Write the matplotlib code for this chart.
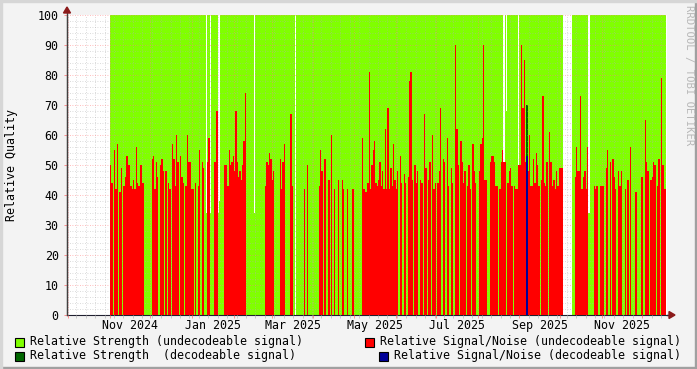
import datetime as dt
import numpy as np
import matplotlib.pyplot as plt
import matplotlib.dates as mdates
from matplotlib.patches import Rectangle, Polygon

# daily samples start on this day
first_day = dt.date(2024, 11, 1)
x_start = dt.datetime(2024, 9, 30, 2)
x_end = dt.datetime(2025, 12, 19, 12)

nan = np.nan

# Relative Signal/Noise (undecodeable), one value per day, 0 = nothing
snr_2024_11 = [50, 44, 0, 55, 42, 57, 0, 41, 49, 0, 43, 46, 53, 50, 50, 43, 42, 45, 42, 56,
               44, 43, 50, 50, 44, 0, 0, 0, 0, 0]
snr_2024_12 = [0, 52, 53, 42, 51, 46, 0, 50, 52, 48, 0, 48, 0, 44, 42, 0, 57, 52, 43, 60,
               51, 0, 53, 46, 44, 0, 43, 60, 51, 51, 42]
snr_2025_01 = [42, 0, 44, 0, 43, 55, 0, 51, 49, 0, 0, 51, 59, 0, 0, 0, 51, 51, 68, 0,
               0, 0, 0, 0, 50, 50, 43, 55, 50, 51, 53]
snr_2025_02 = [48, 68, 51, 46, 48, 45, 50, 58, 74, 0, 0, 0, 0, 0, 0, 0, 0, 0, 0, 0,
               0, 0, 0, 43, 51, 50, 54, 52]
snr_2025_03 = [45, 48, 0, 0, 0, 0, 52, 42, 51, 57, 0, 0, 0, 0, 67, 43, 0, 0, 0, 0,
               0, 0, 0, 0, 42, 0, 50, 0, 0, 0, 0]
snr_2025_04 = [0, 0, 0, 0, 43, 55, 48, 0, 52, 0, 0, 45, 0, 60, 0, 42, 0, 0, 45, 0,
               0, 45, 42, 0, 0, 42, 0, 0, 0, 42]
snr_2025_05 = [0, 0, 0, 0, 0, 0, 59, 42, 41, 41, 44, 81, 42, 50, 55, 58, 44, 43, 45, 51,
               43, 48, 42, 62, 42, 69, 42, 49, 43, 57, 45]
snr_2025_06 = [42, 48, 0, 53, 44, 0, 47, 44, 0, 46, 78, 81, 45, 0, 50, 44, 48, 0, 45, 44,
               0, 67, 49, 0, 45, 51, 0, 60, 42, 44]
snr_2025_07 = [0, 44, 48, 69, 0, 52, 51, 0, 59, 43, 0, 49, 44, 0, 90, 62, 50, 0, 58, 51,
               44, 48, 0, 43, 50, 42, 0, 57, 48, 44, 0]
snr_2025_08 = [0, 48, 57, 59, 90, 45, 45, 0, 0, 51, 53, 53, 51, 43, 43, 0, 42, 51, 55, 51,
               51, 0, 44, 48, 49, 43, 0, 43, 42, 42, 50]
snr_2025_09 = [50, 90, 69, 85, 51, 0, 48, 60, 43, 43, 52, 44, 54, 50, 43, 0, 45, 73, 44, 43,
               51, 0, 61, 51, 43, 45, 42, 48, 43, 49]
snr_2025_10 = [49, 49, nan, nan, nan, nan, nan, nan, nan, 0, 0, 46, 56, 48, 48, 73, 42, 46, 48, 42,
               56, 0, 0, 0, 0, 43, 42, 43, 0, 0, 43]
snr_2025_11 = [43, 43, 0, 49, 55, 0, 51, 0, 52, 46, 42, 0, 48, 43, 48, 0, 0, 42, 0, 45,
               0, 56, 0, 0, 0, 41, 0, 0, 0, 46]
snr_2025_12 = [46, 0, 65, 51, 48, 0, 45, 46, 51, 50, 0, 43, 52, 0, 79, 50, 42, 42]

# Relative Strength (undecodeable), one value per day, nan = no data
str_2024_11 = [100] * 30
str_2024_12 = [100] * 31
str_2025_01 = [100, 100, 100, 100, 100, 100, 100, 100, 100, 100, 34, 100, 100, 34, 100, 100, 100, 100, 100, 34,
               38, 100, 100, 100, 100, 100, 100, 100, 100, 100, 100]
str_2025_02 = [100, 100, 100, 100, 100, 100, 100, 100, 100, 100, 100, 100, 100, 100, 100, 34, 100, 100, 100, 100,
               100, 100, 100, 100, 100, 100, 100, 100]
str_2025_03 = [100, 100, 100, 100, 100, 100, 100, 100, 100, 100, 100, 100, 100, 100, 100, 100, 100, nan, 100, 100,
               100, 100, 100, 100, 100, 100, 100, 100, 100, 100, 100]
str_2025_04 = [100] * 30
str_2025_05 = [100] * 31
str_2025_06 = [100] * 30
str_2025_07 = [100] * 31
str_2025_08 = [100, 100, 100, 100, 100, 100, 100, 100, 100, 100, 100, 100, 100, 100, 100, 100, 100, 100, 100, 47,
               100, 68, 100, 100, 100, 100, 100, 100, 100, 100, 48]
str_2025_09 = [100] * 30
str_2025_10 = [100, 100, nan, nan, nan, nan, nan, nan, nan, 100, 100, 100, 100, 100, 100, 100, 100, 100, 100, 100,
               100, 34, 100, 100, 100, 100, 100, 100, 100, 100, 100]
str_2025_11 = [100] * 30
str_2025_12 = [100] * 18

# decodeable signal, only one day has any
dec_days = [dt.date(2025, 9, 6)]
str_dec = [70]
snr_dec = [53]

snr_undec = np.array(snr_2024_11 + snr_2024_12 + snr_2025_01 + snr_2025_02 + snr_2025_03 + snr_2025_04
                     + snr_2025_05 + snr_2025_06 + snr_2025_07 + snr_2025_08 + snr_2025_09
                     + snr_2025_10 + snr_2025_11 + snr_2025_12, dtype=float)
str_undec = np.array(str_2024_11 + str_2024_12 + str_2025_01 + str_2025_02 + str_2025_03 + str_2025_04
                     + str_2025_05 + str_2025_06 + str_2025_07 + str_2025_08 + str_2025_09
                     + str_2025_10 + str_2025_11 + str_2025_12, dtype=float)
days = [first_day + dt.timedelta(days=i) for i in range(len(str_undec))]

GREEN = '#80ff00'
DKGREEN = '#006600'
RED = '#ff0000'
BLUE = '#000099'
BG = '#f3f3f3'
FONT = 'DejaVu Sans Mono'
FS = 8.4

W, H = 697, 369
fig = plt.figure(figsize=(W / 100, H / 100), dpi=100, facecolor=BG)

# frame like rrdtool
fig.patches.append(Rectangle((0, 0), 1, 2 / H, transform=fig.transFigure, color='#a0a0a0', zorder=0))
fig.patches.append(Rectangle((1 - 2 / W, 0), 2 / W, 1, transform=fig.transFigure, color='#a0a0a0', zorder=0))
fig.patches.append(Rectangle((0, 1 - 2 / H), 1, 2 / H, transform=fig.transFigure, color='#d6d6d6', zorder=0))
fig.patches.append(Rectangle((0, 0), 2 / W, 1, transform=fig.transFigure, color='#d6d6d6', zorder=0))

L, R, T, B = 67, 667, 15, 315
ax = fig.add_axes([L / W, 1 - B / H, (R - L) / W, (B - T) / H])
ax.set_facecolor('white')

one = dt.timedelta(days=1)
ax.bar(days, str_undec, width=one, align='edge', color=GREEN, linewidth=0, zorder=1)
ax.bar(dec_days, str_dec, width=one, align='edge', color=DKGREEN, linewidth=0, zorder=2)
ax.bar(days, snr_undec, width=one, align='edge', color=RED, linewidth=0, zorder=3)
ax.bar(dec_days, snr_dec, width=one, align='edge', color=BLUE, linewidth=0, zorder=4)

ax.set_xlim(x_start, x_end)
ax.set_ylim(0, 100)

# grid
ax.xaxis.set_major_locator(mdates.MonthLocator())
ax.xaxis.set_minor_locator(mdates.WeekdayLocator(byweekday=mdates.MO))
ax.set_yticks(np.arange(0, 101, 10))
ax.set_yticks(np.arange(0, 101, 2), minor=True)
ax.grid(which='minor', color='#b0b0b0', alpha=0.6, linestyle=(0, (1, 2)), linewidth=0.6, zorder=5)
ax.grid(which='major', color='#ff8080', alpha=0.7, linestyle=(0, (1, 2)), linewidth=0.6, zorder=6)
ax.set_axisbelow(False)
ax.tick_params(which='both', direction='out', length=2, width=0.6, labelsize=FS)
ax.tick_params(axis='x', which='both', labelbottom=False)
ax.tick_params(axis='x', which='major', color='#ff8080')
ax.tick_params(axis='x', which='minor', color='#c0c0c0')
ax.tick_params(axis='y', which='major', color='#ff8080', pad=4)
ax.tick_params(axis='y', which='minor', length=0)
for lbl in ax.get_yticklabels():
    lbl.set_fontfamily(FONT)

for sp in ['top', 'right']:
    ax.spines[sp].set_visible(False)
ax.spines['bottom'].set_color('#202030')
ax.spines['left'].set_color('#404040')

# month labels centred in the middle of every second month
for m in [dt.date(2024, 11, 1), dt.date(2025, 1, 1), dt.date(2025, 3, 1), dt.date(2025, 5, 1),
          dt.date(2025, 7, 1), dt.date(2025, 9, 1), dt.date(2025, 11, 1)]:
    nxt = (m.replace(day=28) + dt.timedelta(days=4)).replace(day=1)
    mid = mdates.date2num(m) + (mdates.date2num(nxt) - mdates.date2num(m)) / 2
    ax.text(mid, -1.2, m.strftime('%b %Y'), ha='center', va='top', fontsize=FS,
            family=FONT, clip_on=False)

# axis arrows
ax_col = '#8b1a1a'
fig.patches.append(Polygon([[(L - 3.5) / W, 1 - 13 / H], [(L + 3.5) / W, 1 - 13 / H], [L / W, 1 - 7 / H]],
                           closed=True, transform=fig.transFigure, color=ax_col, zorder=10))
fig.lines.append(plt.Line2D([L / W, L / W], [1 - B / H, 1 - 10 / H], transform=fig.transFigure,
                            color='#404040', linewidth=1))
fig.patches.append(Polygon([[(R + 2) / W, 1 - (B - 3.5) / H], [(R + 2) / W, 1 - (B + 3.5) / H],
                            [(R + 8) / W, 1 - B / H]],
                           closed=True, transform=fig.transFigure, color=ax_col, zorder=10))
fig.lines.append(plt.Line2D([R / W, (R + 4) / W], [1 - B / H, 1 - B / H], transform=fig.transFigure,
                            color='#202030', linewidth=1))

fig.text(12 / W, 1 - 165 / H, 'Relative Quality', rotation=90, ha='center', va='center',
         fontsize=FS, family=FONT)
fig.text(689 / W, 1 - 5 / H, 'RRDTOOL / TOBI OETIKER', rotation=270, ha='center', va='top',
         fontsize=7.6, family=FONT, color='#b8b8b8')

# legend
legend = [
    (15, 342, GREEN, 'Relative Strength (undecodeable signal)'),
    (365, 342, RED, 'Relative Signal/Noise (undecodeable signal)'),
    (15, 356, DKGREEN, 'Relative Strength  (decodeable signal)'),
    (379, 356, BLUE, 'Relative Signal/Noise (decodeable signal)'),
]
for x, y, c, t in legend:
    fig.patches.append(Rectangle((x / W, 1 - (y + 5) / H), 9 / W, 9 / H, transform=fig.transFigure,
                                 facecolor=c, edgecolor='black', linewidth=0.8))
    fig.text((x + 15) / W, 1 - y / H, t, ha='left', va='center', fontsize=FS, family=FONT)

fig.savefig('out.png', dpi=100, facecolor=BG)
